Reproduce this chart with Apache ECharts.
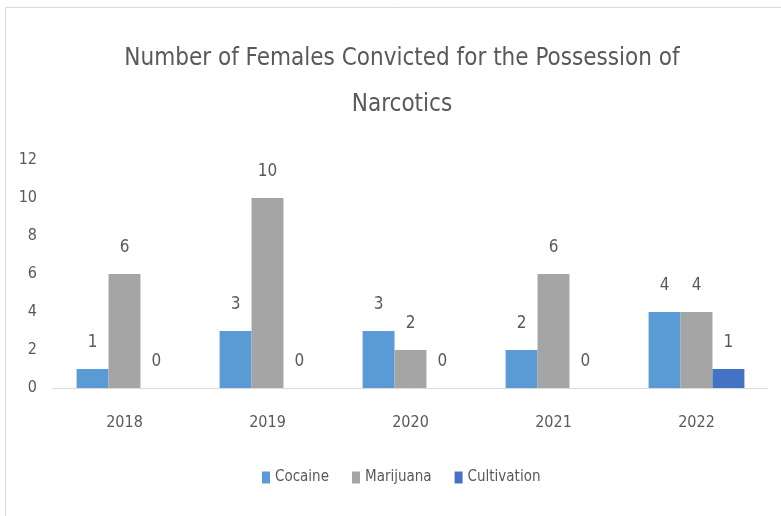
<!DOCTYPE html>
<html>
<head>
<meta charset="utf-8">
<script src="https://cdn.jsdelivr.net/npm/echarts@6/dist/echarts.min.js"></script>
<style>
  html, body { margin: 0; padding: 0; background: #ffffff; }
  #chart { width: 781px; height: 516px; }
</style>
</head>
<body>
<div id="chart"></div>
<script>
// Convictions of females for narcotics possession, by year and offence type
const years = ['2018', '2019', '2020', '2021', '2022'];
const cocaine = [1, 3, 3, 2, 4];
const marijuana = [6, 10, 2, 6, 4];
const cultivation = [0, 0, 0, 0, 1];
const yTicks = { min: 0, max: 12, step: 2 };

const FONT = "'Liberation Sans Narrow', 'DejaVu Sans Condensed', 'Liberation Sans', sans-serif";
const TEXT = '#595959';

const chart = echarts.init(document.getElementById('chart'));

function barSeries(name, values, color) {
  return {
    name: name,
    type: 'bar',
    data: values,
    barGap: '0%',
    barCategoryGap: '33%',
    itemStyle: { color: color },
    label: {
      show: true,
      position: 'top',
      distance: 18,
      color: TEXT,
      fontFamily: FONT,
      fontSize: 17
    },
    emphasis: { disabled: true }
  };
}

chart.setOption({
  animation: false,
  backgroundColor: '#ffffff',
  graphic: [{
    type: 'rect',
    shape: { x: 5.5, y: 7.5, width: 800, height: 600 },
    style: { fill: 'none', stroke: '#d9d9d9', lineWidth: 1 },
    silent: true
  }],
  title: {
    text: 'Number of Females Convicted for the Possession of\nNarcotics',
    left: 397,
    textAlign: 'center',
    top: 31,
    textStyle: {
      fontFamily: FONT,
      fontSize: 24,
      fontWeight: 'normal',
      color: TEXT,
      lineHeight: 46
    }
  },
  legend: {
    bottom: 26,
    left: 257,
    itemWidth: 8,
    itemHeight: 12,
    itemGap: 23,
    icon: 'rect',
    textStyle: { fontFamily: FONT, fontSize: 15, color: TEXT },
    data: ['Cocaine', 'Marijuana', 'Cultivation']
  },
  grid: { left: 53, right: 13, top: 160, bottom: 128, containLabel: false },
  xAxis: {
    type: 'category',
    data: years,
    axisLine: { lineStyle: { color: '#d9d9d9', width: 1 } },
    axisTick: { show: false },
    axisLabel: { color: TEXT, fontFamily: FONT, fontSize: 16, margin: 27 }
  },
  yAxis: {
    type: 'value',
    min: yTicks.min,
    max: yTicks.max,
    interval: yTicks.step,
    axisLine: { show: false },
    axisTick: { show: false },
    splitLine: { show: false },
    axisLabel: { color: TEXT, fontFamily: FONT, fontSize: 16, margin: 16 }
  },
  series: [
    barSeries('Cocaine', cocaine, '#5b9bd5'),
    barSeries('Marijuana', marijuana, '#a5a5a5'),
    barSeries('Cultivation', cultivation, '#4472c4')
  ]
});
</script>
</body>
</html>
